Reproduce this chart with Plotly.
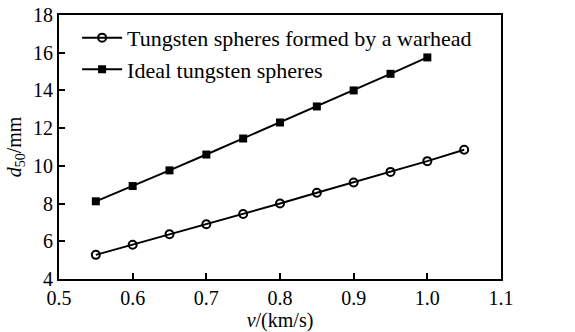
import plotly.graph_objects as go

v_formed = [0.55, 0.60, 0.65, 0.70, 0.75, 0.80, 0.85, 0.90, 0.95, 1.00, 1.05]
d_formed = [5.28, 5.82, 6.37, 6.90, 7.45, 8.00, 8.57, 9.12, 9.68, 10.25, 10.85]
v_ideal = [0.55, 0.60, 0.65, 0.70, 0.75, 0.80, 0.85, 0.90, 0.95, 1.00]
d_ideal = [8.12, 8.93, 9.76, 10.60, 11.45, 12.30, 13.15, 14.00, 14.88, 15.75]

font = "Liberation Serif, Times New Roman, serif"

fig = go.Figure()
fig.add_trace(go.Scatter(
    x=v_formed, y=d_formed, mode="lines+markers",
    name="Tungsten spheres formed by a warhead",
    line=dict(color="black", width=2),
    marker=dict(symbol="circle-open", size=8, color="black", line=dict(width=2)),
))
fig.add_trace(go.Scatter(
    x=v_ideal, y=d_ideal, mode="lines+markers",
    name="Ideal tungsten spheres",
    line=dict(color="black", width=2),
    marker=dict(symbol="square", size=8, color="black"),
))

axis_common = dict(
    showline=True, linecolor="black", linewidth=2, mirror=True,
    ticks="inside", ticklen=6, tickwidth=2, tickcolor="black",
    showgrid=False, zeroline=False, automargin=False,
    ticklabeloverflow="allow",
    tickfont=dict(family=font, size=20, color="black"),
)

fig.update_layout(
    width=575, height=332,
    margin=dict(l=59, r=74, t=15, b=53),
    paper_bgcolor="white", plot_bgcolor="white",
    font=dict(family=font, color="black"),
    showlegend=True,
    legend=dict(x=0.041, y=0.993, xanchor="left", yanchor="top",
                font=dict(family=font, size=22, color="black"),
                bgcolor="rgba(0,0,0,0)", tracegroupgap=0, itemwidth=40),
    xaxis=dict(range=[0.5, 1.1], tickvals=[0.5, 0.6, 0.7, 0.8, 0.9, 1.0, 1.1],
               ticktext=["0.5", "0.6", "0.7", "0.8", "0.9", "1.0", "1.1"],
               title=dict(text="<i>v</i>/(km/s)", font=dict(family=font, size=20), standoff=2),
               **axis_common),
    yaxis=dict(range=[4, 18], tickvals=[4, 6, 8, 10, 12, 14, 16, 18],
               title=dict(text="<i>d</i><sub>50</sub>/mm", font=dict(family=font, size=20), standoff=6),
               **axis_common),
)

fig.write_html("out.html",
               config={"displayModeBar": False},
               post_script="document.body.style.margin='0';document.body.style.padding='0';")
